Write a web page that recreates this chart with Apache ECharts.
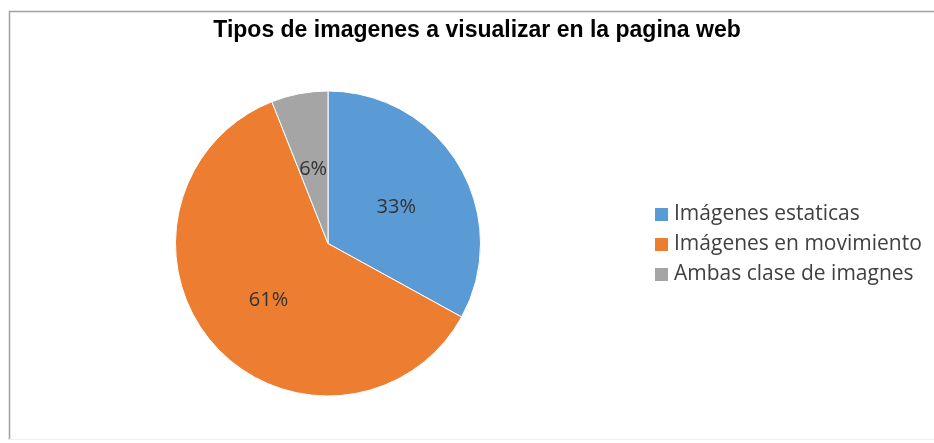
<!DOCTYPE html>
<html><head><meta charset="utf-8">
<script src="https://cdn.jsdelivr.net/npm/echarts@6/dist/echarts.min.js"></script>
<style>html,body{margin:0;padding:0;background:#fff}#c{width:934px;height:443px}</style>
</head><body><div id="c"></div>
<script>
const titleText = "Tipos de imagenes a visualizar en la pagina web";
const categories = ["Imágenes estaticas", "Imágenes en movimiento", "Ambas clase de imagnes"];
const values = [33, 61, 6];
const colors = ["#5b9bd5", "#ed7d31", "#a5a5a5"];

const chart = echarts.init(document.getElementById('c'));
chart.setOption({
  animation: false,
  backgroundColor: '#fff',
  title: {
    text: titleText, left: 472, top: 14, textAlign: 'center',
    textStyle: {fontFamily: 'Liberation Sans', fontWeight: 'bold', fontSize: 23, color: '#000'}
  },
  legend: {
    orient: 'vertical', left: 653, top: 204, padding: 0,
    itemWidth: 15, itemHeight: 15, itemGap: 9,
    icon: 'rect',
    textStyle: {fontFamily: 'Open Sans', fontSize: 21, lineHeight: 21, color: '#404040'},
    data: categories
  },
  graphic: [
    {type: 'line', shape: {x1: 9.5, y1: 11, x2: 9.5, y2: 440}, style: {stroke: '#a0a0a0', lineWidth: 1.5}},
    {type: 'line', shape: {x1: 9, y1: 11.5, x2: 934, y2: 11.5}, style: {stroke: '#a0a0a0', lineWidth: 1.5}},
    {type: 'line', shape: {x1: 9, y1: 439.5, x2: 934, y2: 439.5}, style: {stroke: '#eeeeee', lineWidth: 1}}
  ],
  series: [{
    type: 'pie',
    center: [328, 243.5],
    radius: [0, 152.5],
    startAngle: 90,
    clockwise: true,
    data: categories.map((n, i) => ({name: n, value: values[i], itemStyle: {color: colors[i]}})),
    itemStyle: {borderColor: '#fff', borderWidth: 1},
    label: {
      position: 'inner', formatter: '{c}%', offset: [0, 4],
      fontFamily: 'Open Sans', fontSize: 20, color: '#333'
    },
    labelLine: {show: false},
    emphasis: {disabled: true}
  }]
});
</script></body></html>
